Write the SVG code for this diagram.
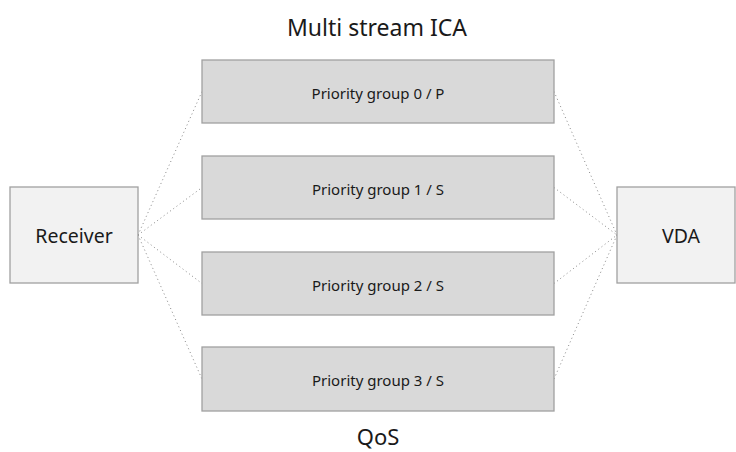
<svg xmlns="http://www.w3.org/2000/svg" width="736" height="452" viewBox="0 0 736 452">
<style>
.end{fill:#f2f2f2;stroke:#a0a0a0;stroke-width:1.3}
.pg{fill:#d9d9d9;stroke:#a0a0a0;stroke-width:1.3}
.t{font-family:"Noto Sans","Open Sans",sans-serif;fill:#1a1a1a;text-anchor:middle}
.s{font-size:15px}
.c{fill:none;stroke:#888;stroke-width:1;stroke-dasharray:1 3}
</style>
<rect width="736" height="452" fill="#fff"/>
<text class="t" x="377" y="36" font-size="23">Multi stream ICA</text>
<text class="t" x="378" y="445" font-size="22">QoS</text>
<g id="connectors">
<line class="c" x1="138" y1="235" x2="202" y2="91.5"/>
<line class="c" x1="138" y1="235" x2="202" y2="187.5"/>
<line class="c" x1="138" y1="235" x2="202" y2="283.5"/>
<line class="c" x1="138" y1="235" x2="202" y2="379"/>
<line class="c" x1="554" y1="91.5" x2="617" y2="235"/>
<line class="c" x1="554" y1="187.5" x2="617" y2="235"/>
<line class="c" x1="554" y1="283.5" x2="617" y2="235"/>
<line class="c" x1="554" y1="379" x2="617" y2="235"/>
</g>
<g id="receiver">
<rect class="end" x="10" y="187" width="128" height="96"/>
<text class="t" x="74" y="243" font-size="19.5">Receiver</text>
</g>
<g id="vda">
<rect class="end" x="617" y="187" width="118" height="96"/>
<text class="t" x="681" y="243" font-size="19.5">VDA</text>
</g>
<g id="pg0">
<rect class="pg" x="202" y="60" width="352" height="63"/>
<text class="t s" x="378" y="98.5">Priority group 0 / P</text>
</g>
<g id="pg1">
<rect class="pg" x="202" y="156" width="352" height="63"/>
<text class="t s" x="378" y="194.5">Priority group 1 / S</text>
</g>
<g id="pg2">
<rect class="pg" x="202" y="252" width="352" height="63"/>
<text class="t s" x="378" y="290.5">Priority group 2 / S</text>
</g>
<g id="pg3">
<rect class="pg" x="202" y="347" width="352" height="64"/>
<text class="t s" x="378" y="386">Priority group 3 / S</text>
</g>
</svg>
